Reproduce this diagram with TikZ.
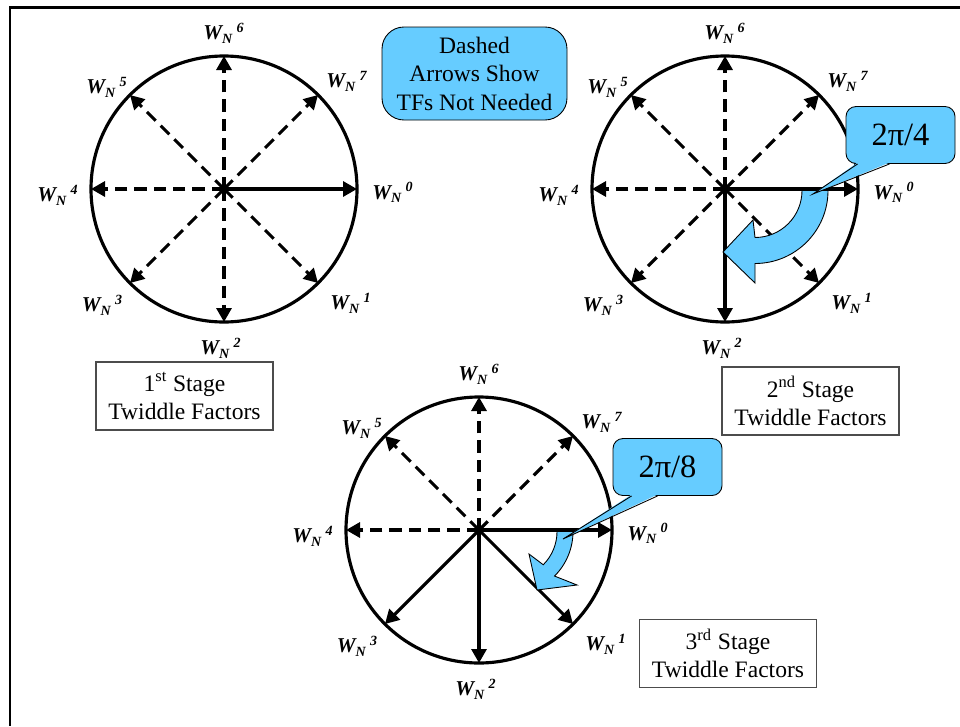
\documentclass[tikz,border=0pt]{standalone}
\usepackage{fontspec}
\setmainfont{Liberation Serif}
\usepackage{tikz}
\usetikzlibrary{arrows.meta}
\definecolor{tfblue}{HTML}{66CCFF}

\begin{document}
\begin{tikzpicture}[
  circ/.style={line width=1.8pt},
  vec/.style={line width=1.8pt, -{Triangle[length=0.28cm, width=0.3cm]}},
  unused/.style={vec, dash pattern=on 7pt off 4pt},
  wlab/.style={font=\fontsize{12}{14}\selectfont\bfseries\itshape, inner sep=0pt},
  stagebox/.style={draw=black!70, line width=0.6pt, minimum width=3.54cm,
                   minimum height=1.36cm, align=center,
                   font=\fontsize{13.4}{16}\selectfont},
  notebox/.style={draw, line width=0.5pt, fill=tfblue, rounded corners=0.44cm,
                  minimum width=3.7cm, minimum height=1.86cm, align=center,
                  font=\fontsize{13.4}{16.2}\selectfont},
  callbox/.style={draw, line width=0.5pt, fill=tfblue, rounded corners=0.2cm,
                  minimum width=2.18cm, minimum height=1.14cm,
                  font=\fontsize{18.5}{20}\selectfont},
  turnarrow/.style={draw, line width=0.5pt, fill=tfblue},
  frame/.style={line width=1.7pt}
]
  \useasboundingbox (0,0) rectangle (19.2,-14.52);
  \draw[frame] (19.2,-0.15) -- (0.2,-0.15) -- (0.2,-14.52);

  % circle centres
  \coordinate (s1) at (4.48,-3.78);
  \coordinate (s2) at (14.5,-3.78);
  \coordinate (s3) at (9.58,-10.6);

  \foreach \s in {s1,s2,s3}
    \draw[circ] (\s) circle (2.66);

  % 1st stage
  \foreach \k/\st in {0/vec,1/unused,2/unused,3/unused,4/unused,5/unused,6/unused,7/unused} {
    \path (s1) ++({-45*\k}:2.66) coordinate (s1-\k);
    \draw[\st] (s1) -- (s1-\k);
  }
  % 2nd stage
  \foreach \k/\st in {0/vec,1/unused,2/vec,3/unused,4/unused,5/unused,6/unused,7/unused} {
    \path (s2) ++({-45*\k}:2.66) coordinate (s2-\k);
    \draw[\st] (s2) -- (s2-\k);
  }
  % 3rd stage
  \foreach \k/\st in {0/vec,1/vec,2/vec,3/vec,4/unused,5/unused,6/unused,7/unused} {
    \path (s3) ++({-45*\k}:2.66) coordinate (s3-\k);
    \draw[\st] (s3) -- (s3-\k);
  }

  % twiddle labels
  \foreach \s in {s1,s2,s3}
    \foreach \k/\dx/\dy in {0/3.38/-0.07, 1/2.54/-2.28, 2/-0.06/-3.18, 3/-2.43/-2.32,
                            4/-3.32/-0.12, 5/-2.34/2.04, 6/0/3.12, 7/2.46/2.16}
      \path (\s) ++(\dx,\dy) node[wlab] (\s-w\k) {W\textsubscript{N}\,\textsuperscript{\k}};

  \node[stagebox] (stage1) at (3.69,-7.92) {1\textsuperscript{st} Stage\\Twiddle Factors};
  \node[stagebox] (stage2) at (16.21,-8.02) {2\textsuperscript{nd} Stage\\Twiddle Factors};
  \node[stagebox] (stage3) at (14.56,-13.07) {3\textsuperscript{rd} Stage\\Twiddle Factors};

  \node[notebox] (note) at (9.49,-1.47) {Dashed\\Arrows Show\\TFs Not Needed};

  % rotation arrows
  \path[turnarrow] (16.04,-3.81) -- (16.56,-3.81) arc[start angle=0, end angle=-90, radius=1.46]
    -- (15.1,-5.66) -- (14.46,-5.04) -- (15.06,-4.4) -- (15.1,-4.75)
    arc[start angle=-90, end angle=0, radius=0.94] -- cycle;
  \path[turnarrow] (11.14,-10.63) -- (11.46,-10.63) arc[start angle=0, end angle=-45, radius=1.26]
    -- (11.54,-11.7) -- (10.74,-11.8) -- (10.58,-11.08) -- (10.865,-11.295)
    arc[start angle=-45, end angle=0, radius=0.94] -- cycle;

  % callouts
  \coordinate (pi4tip) at (16.26,-3.88);
  \node[callbox] (pi4) at (18.01,-2.7) {2π/4};
  \fill[tfblue] ([xshift=0.24cm, yshift=0.8pt]pi4.south west) -- (pi4tip)
    -- ([xshift=0.88cm, yshift=0.8pt]pi4.south west) -- cycle;
  \draw[line width=0.5pt] ([xshift=0.24cm]pi4.south west) -- (pi4tip)
    -- ([xshift=0.88cm]pi4.south west);

  \coordinate (pi8tip) at (11.26,-10.78);
  \node[callbox] (pi8) at (13.35,-9.34) {2π/8};
  \fill[tfblue] ([xshift=0.38cm, yshift=0.8pt]pi8.south west) -- (pi8tip)
    -- ([xshift=0.9cm, yshift=0.8pt]pi8.south west) -- cycle;
  \draw[line width=0.5pt] ([xshift=0.38cm]pi8.south west) -- (pi8tip)
    -- ([xshift=0.9cm]pi8.south west);
\end{tikzpicture}
\end{document}
